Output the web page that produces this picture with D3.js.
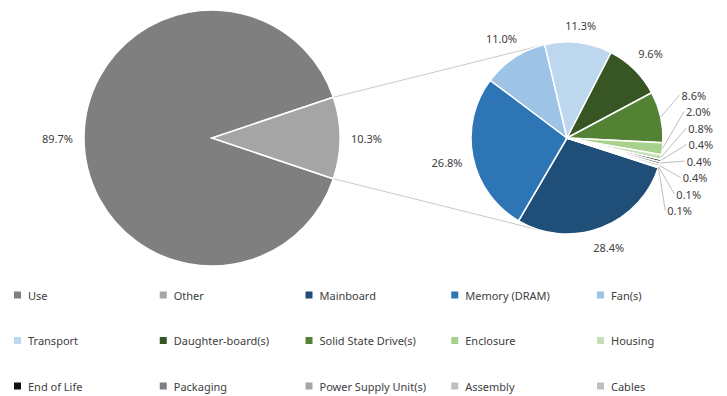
<!DOCTYPE html>
<html>
<head>
<meta charset="utf-8">
<script src="https://cdn.jsdelivr.net/npm/d3@7.9.0/dist/d3.min.js"></script>
<style>
  html, body { margin: 0; padding: 0; background: #fff; }
  svg { display: block; font-family: "Noto Sans", sans-serif; }
  .pct { font-size: 11px; fill: #404040; }
  .legend text { font-size: 11px; fill: #404040; }
</style>
</head>
<body>
<svg id="chart" width="727" height="396"></svg>
<script>
// Pie of pie: life-cycle share, "Other" broken out on the right

// ---- data ----
const mainLabels = ["Use", "Other"];
const mainValues = [89.7, 10.3];
const mainColors = ["#7f7f7f", "#a5a5a5"];

const subLabels = [
  "Mainboard", "Memory (DRAM)", "Fan(s)", "Transport", "Daughter-board(s)",
  "Solid State Drive(s)", "Enclosure", "Housing", "End of Life", "Packaging",
  "Power Supply Unit(s)", "Assembly", "Cables",
];
const subValues = [28.4, 26.8, 11.0, 11.3, 9.6, 8.6, 2.0, 0.8, 0.4, 0.4, 0.4, 0.1, 0.1];
const subColors = [
  "#1f4e79", "#2e75b6", "#9dc3e6", "#bdd7ee", "#375623",
  "#548235", "#a9d18e", "#c5e0b4", "#111111", "#7f7f7f",
  "#a6a6a6", "#bfbfbf", "#c0c0c0",
];

const legendLabels = mainLabels.concat(subLabels);
const legendColors = mainColors.concat(subColors);

// ---- layout ----
const width = 727;
const height = 396;
const left = { cx: 212, cy: 138, r: 128 };
const right = { cx: 567, cy: 138, r: 96 };
const deg = Math.PI / 180;

const svg = d3.select("#chart");

const fmt = (v) => d3.format(".1f")(v) + "%";

// box-aware label center: nearest edge of text sits `gap` px outside the arc
function outsidePos(c, angle, gap, w, h) {
  const s = Math.sin(angle), k = Math.cos(angle);
  const dist = c.r + gap + (w / 2) * Math.abs(s) + (h / 2) * Math.abs(k);
  return [c.cx + dist * s, c.cy - dist * k];
}

// ---- left pie ----
const otherShare = mainValues[1] / d3.sum(mainValues);
const mainPie = d3.pie().sort(null)
  .startAngle(Math.PI / 2 + otherShare * Math.PI)
  .endAngle(Math.PI / 2 + otherShare * Math.PI + 2 * Math.PI);
const mainArcs = mainPie(mainValues);
const mainArc = d3.arc().innerRadius(0).outerRadius(left.r);

// connector lines (tangents from the Other slice edges to the second pie)
const otherArc = mainArcs[1];
const pTop = [left.cx + left.r * Math.sin(otherArc.startAngle), left.cy - left.r * Math.cos(otherArc.startAngle)];
const pBot = [left.cx + left.r * Math.sin(otherArc.endAngle), left.cy - left.r * Math.cos(otherArc.endAngle)];
function tangent(p, sign) {
  const dx = right.cx - p[0], dy = right.cy - p[1];
  const d = Math.hypot(dx, dy);
  const base = Math.atan2(dy, dx);
  const a = base + sign * Math.asin(right.r / d);
  const L = Math.sqrt(d * d - right.r * right.r);
  return [p[0] + L * Math.cos(a), p[1] + L * Math.sin(a)];
}
svg.append("g").attr("class", "connectors")
  .selectAll("line")
  .data([[pTop, tangent(pTop, -1)], [pBot, tangent(pBot, 1)]])
  .join("line")
  .attr("x1", (d) => d[0][0]).attr("y1", (d) => d[0][1])
  .attr("x2", (d) => d[1][0]).attr("y2", (d) => d[1][1])
  .attr("stroke", "#c8c8c8").attr("stroke-width", 1);

svg.append("g")
  .attr("transform", `translate(${left.cx},${left.cy})`)
  .selectAll("path")
  .data(mainArcs)
  .join("path")
  .attr("d", mainArc)
  .attr("fill", (d, i) => mainColors[i])
  .attr("stroke", "#fff")
  .attr("stroke-width", 1.5);

// left labels
const leftLabels = svg.append("g");
mainArcs.forEach((a) => {
  const t = leftLabels.append("text").attr("class", "pct")
    .attr("text-anchor", "middle").attr("dominant-baseline", "central")
    .text(fmt(a.data));
  const w = t.node().getComputedTextLength();
  const mid = (a.startAngle + a.endAngle) / 2;
  const [x, y] = outsidePos(left, mid, 11, w, 12);
  t.attr("x", x).attr("y", y);
});

// ---- right pie ----
const subStart = 108 * deg;
const subPie = d3.pie().sort(null).startAngle(subStart).endAngle(subStart + 2 * Math.PI);
const subArcs = subPie(subValues);
const subArc = d3.arc().innerRadius(0).outerRadius(right.r);

svg.append("g")
  .attr("transform", `translate(${right.cx},${right.cy})`)
  .selectAll("path")
  .data(subArcs)
  .join("path")
  .attr("d", subArc)
  .attr("fill", (d, i) => subColors[i])
  .attr("stroke", "#fff")
  .attr("stroke-width", 1.5);

// right labels: big slices sit next to the arc, small ones get stacked with leader lines
const R2 = right.r + 38;
const rightLabels = svg.append("g");
const leaderGroup = svg.append("g");
const stacked = [];
subArcs.forEach((a) => {
  const t = rightLabels.append("text").attr("class", "pct")
    .attr("text-anchor", "middle").attr("dominant-baseline", "central")
    .text(fmt(a.data));
  const w = t.node().getComputedTextLength();
  const mid = (a.startAngle + a.endAngle) / 2;
  if (a.data >= 9) {
    const [x, y] = outsidePos(right, mid, 10, w, 12);
    t.attr("x", x).attr("y", y);
  } else {
    // stacked labels ride a little above their slice
    stacked.push({ t, w, mid, y: right.cy - R2 * Math.cos(mid) - 10 });
  }
});

// de-overlap stacked labels vertically (merge clusters, centre each on its mean)
const gap = 16.5;
stacked.sort((a, b) => a.y - b.y);
let groups = stacked.map((d) => ({ items: [d], mean: d.y }));
let merged = true;
while (merged) {
  merged = false;
  for (let i = 1; i < groups.length; i++) {
    const g0 = groups[i - 1], g1 = groups[i];
    const end0 = g0.mean + (g0.items.length - 1) * gap / 2;
    const start1 = g1.mean - (g1.items.length - 1) * gap / 2;
    if (start1 - end0 < gap) {
      const items = g0.items.concat(g1.items);
      groups.splice(i - 1, 2, { items, mean: d3.mean(items, (d) => d.y) });
      merged = true;
      break;
    }
  }
}
groups.forEach((g) => {
  g.items.forEach((d, i) => {
    const y = g.mean + (i - (g.items.length - 1) / 2) * gap;
    const dy = y - right.cy;
    const x = right.cx + Math.sqrt(Math.max(0, R2 * R2 - dy * dy));
    d.t.attr("x", x).attr("y", y);
    const ax = right.cx + right.r * Math.sin(d.mid);
    const ay = right.cy - right.r * Math.cos(d.mid);
    leaderGroup.append("line")
      .attr("x1", ax).attr("y1", ay)
      .attr("x2", x - d.w / 2 - 2).attr("y2", y)
      .attr("stroke", "#bfbfbf").attr("stroke-width", 1);
  });
});

// ---- legend ----
const cols = 5;
const colX = d3.scaleLinear().domain([0, cols]).range([14, 14 + cols * 145.75]);
const rowY = d3.scaleLinear().domain([0, 1]).range([295, 340.5]);

const legend = svg.append("g").attr("class", "legend")
  .selectAll("g")
  .data(legendLabels)
  .join("g")
  .attr("transform", (d, i) => `translate(${colX(i % cols)},${rowY(Math.floor(i / cols))})`);

legend.append("rect")
  .attr("x", 0).attr("y", -3.5)
  .attr("width", 7).attr("height", 7)
  .attr("fill", (d, i) => legendColors[i]);

legend.append("text")
  .attr("x", 14).attr("y", 0)
  .attr("dominant-baseline", "central")
  .text((d) => d);
</script>
</body>
</html>
